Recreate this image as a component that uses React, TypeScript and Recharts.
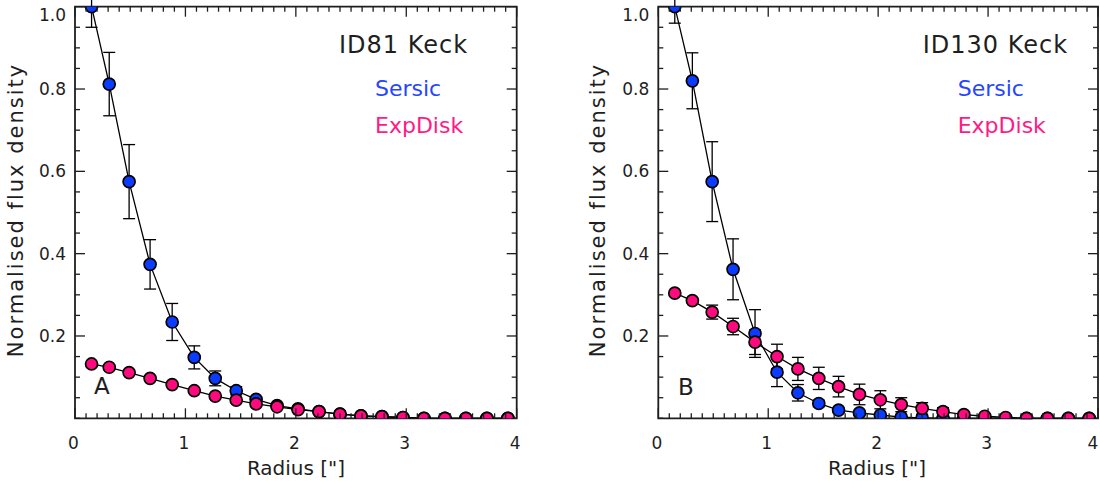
import React from 'react';
import { LineChart, Line, XAxis, YAxis, ErrorBar, ReferenceArea } from 'recharts';

// Radius bins (arcsec)
const radius = [0.15, 0.31, 0.49, 0.68, 0.88, 1.08, 1.27, 1.46, 1.64, 1.83, 2.02, 2.21, 2.40, 2.59, 2.78, 2.97, 3.16, 3.35, 3.54, 3.73, 3.92];

// Panel A: ID81 Keck
const id81Sersic = [1.0, 0.812, 0.575, 0.374, 0.234, 0.148, 0.097, 0.067, 0.046, 0.031, 0.023, 0.016, 0.010, 0.006, 0.004, 0.002, 0.0, 0.0, 0.0, 0.0, 0.0];
const id81SersicErr = [0.05, 0.077, 0.09, 0.06, 0.045, 0.028, 0.018, 0.01, 0.006, 0.004, 0.003, 0.002, 0.001, 0.001, 0, 0, 0, 0, 0, 0, 0];
const id81Exp = [0.132, 0.124, 0.111, 0.097, 0.082, 0.067, 0.054, 0.044, 0.035, 0.028, 0.021, 0.016, 0.010, 0.006, 0.004, 0.002, 0.0, 0.0, 0.0, 0.0, 0.0];
const id81ExpErr = [0.003, 0.003, 0.003, 0.003, 0.003, 0.003, 0.002, 0.002, 0.002, 0.002, 0.001, 0.001, 0.001, 0, 0, 0, 0, 0, 0, 0, 0];

// Panel B: ID130 Keck
const id130Sersic = [1.0, 0.82, 0.575, 0.362, 0.206, 0.112, 0.062, 0.036, 0.020, 0.013, 0.008, 0.003, 0.001, 0.0, 0.0, 0.0, 0.0, 0.0, 0.0, 0.0, 0.0];
const id130SersicErr = [0.04, 0.068, 0.097, 0.074, 0.058, 0.035, 0.02, 0.008, 0.005, 0.004, 0.003, 0.002, 0.001, 0, 0, 0, 0, 0, 0, 0, 0];
const id130Exp = [0.304, 0.286, 0.258, 0.223, 0.185, 0.150, 0.120, 0.097, 0.077, 0.058, 0.045, 0.033, 0.024, 0.016, 0.009, 0.005, 0.002, 0.0, 0.0, 0.0, 0.0];
const id130ExpErr = [0.005, 0.005, 0.017, 0.02, 0.03, 0.03, 0.028, 0.027, 0.025, 0.025, 0.022, 0.017, 0.014, 0.01, 0.006, 0.004, 0.002, 0.001, 0, 0, 0];

// Ticks
const xMajorTicks = [0, 1, 2, 3, 4];
const xAllTicks = Array.from({ length: 41 }, (_, i) => Math.round(i) / 10);
const yLabelTicks = [0.2, 0.4, 0.6, 0.8, 1.0];
const yAllTicks = Array.from({ length: 21 }, (_, i) => Math.round(i * 5) / 100);

const FONT = '"DejaVu Sans", "Liberation Sans", sans-serif';
const INK = '#1e1e1e';
const BLUE_FILL = '#0a3cff';
const PINK_FILL = '#ff0a7e';
const BLUE_TEXT = '#2545ff';
const PINK_TEXT = '#ff1a86';
const CHART_H = 485;

type Margin = { top: number; right: number; bottom: number; left: number };

function Panel(props: {
  width: number;
  plot: { left: number; right: number; top: number; bottom: number };
  sersic: number[];
  sersicErr: number[];
  exp: number[];
  expErr: number[];
}) {
  const { width, plot, sersic, sersicErr, exp, expErr } = props;
  // axes take 1px each (zero-size axes are not drawn)
  const margin: Margin = {
    top: plot.top,
    left: plot.left - 1,
    right: width - plot.right,
    bottom: CHART_H - plot.bottom - 1,
  };
  const plotW = plot.right - plot.left;
  const plotH = plot.bottom - plot.top;
  const data = radius.map((r, i) => ({
    r,
    s: sersic[i],
    se: sersicErr[i],
    e: exp[i],
    ee: expErr[i],
  }));

  const XTick = (p: any) => {
    const { x, y, payload } = p;
    const v = payload.value;
    const major = xMajorTicks.includes(v);
    const len = major ? 10 : 5;
    const lx = Math.min(x - 1.5, width - 7);
    return (
      <g>
        <line x1={x} x2={x} y1={y} y2={y - len} stroke={INK} strokeWidth={1.3} />
        <line x1={x} x2={x} y1={y - plotH} y2={y - plotH + len} stroke={INK} strokeWidth={1.3} />
        {major && (
          <text x={lx} y={y + 31} textAnchor="middle" fontFamily={FONT} fontSize={17} fill={INK}>
            {v}
          </text>
        )}
      </g>
    );
  };

  const YTick = (p: any) => {
    const { x, y, payload } = p;
    const v = payload.value;
    const labelled = yLabelTicks.some((t) => Math.abs(t - v) < 1e-6);
    const len = labelled ? 10 : 5;
    return (
      <g>
        <line x1={x} x2={x + len} y1={y} y2={y} stroke={INK} strokeWidth={1.3} />
        <line x1={x + plotW} x2={x + plotW - len} y1={y} y2={y} stroke={INK} strokeWidth={1.3} />
        {labelled && (
          <text x={x - 9} y={Math.max(y, 15) + 6} textAnchor="end" fontFamily={FONT} fontSize={17} fill={INK}>
            {v.toFixed(1)}
          </text>
        )}
      </g>
    );
  };

  return (
    <LineChart width={width} height={CHART_H} data={data} margin={margin}>
      <XAxis
        dataKey="r"
        type="number"
        domain={[0, 4]}
        ticks={xAllTicks}
        interval={0}
        allowDataOverflow
        height={1}
        tickSize={0}
        tickMargin={0}
        tickLine={false}
        axisLine={false}
        tick={XTick}
      />
      <YAxis
        type="number"
        domain={[0, 1]}
        ticks={yAllTicks}
        interval={0}
        allowDataOverflow
        width={1}
        tickSize={0}
        tickMargin={0}
        tickLine={false}
        axisLine={false}
        tick={YTick}
      />
      <Line
        dataKey="s"
        stroke="#000"
        strokeWidth={1.3}
        isAnimationActive={false}
        activeDot={false}
        dot={{ r: 6, fill: BLUE_FILL, stroke: '#000', strokeWidth: 1.7 }}
      >
        <ErrorBar dataKey="se" width={6} stroke="#000" strokeWidth={1.3} direction="y" />
      </Line>
      <Line
        dataKey="e"
        stroke="#000"
        strokeWidth={1.3}
        isAnimationActive={false}
        activeDot={false}
        dot={{ r: 6, fill: PINK_FILL, stroke: '#000', strokeWidth: 1.7 }}
      >
        <ErrorBar dataKey="ee" width={6} stroke="#000" strokeWidth={1.3} direction="y" />
      </Line>
      <ReferenceArea x1={0} x2={4} y1={0} y2={1} fill="none" fillOpacity={0} stroke={INK} strokeWidth={1.8} />
    </LineChart>
  );
}

export default function App() {
  const textStyle = { fontFamily: FONT };
  return (
    <div style={{ position: 'absolute', left: 0, top: 0, width: 1100, height: 485, background: '#fff' }}>
      <div style={{ position: 'absolute', left: 0, top: 0 }}>
        <Panel
          width={580}
          plot={{ left: 75, right: 516.7, top: 6.7, bottom: 418.3 }}
          sersic={id81Sersic}
          sersicErr={id81SersicErr}
          exp={id81Exp}
          expErr={id81ExpErr}
        />
      </div>
      <div style={{ position: 'absolute', left: 580, top: 0 }}>
        <Panel
          width={520}
          plot={{ left: 78.3, right: 518, top: 6.7, bottom: 418.3 }}
          sersic={id130Sersic}
          sersicErr={id130SersicErr}
          exp={id130Exp}
          expErr={id130ExpErr}
        />
      </div>
      <svg
        width={1100}
        height={485}
        style={{ position: 'absolute', left: 0, top: 0, pointerEvents: 'none' }}
      >
        <g style={textStyle} fill={INK}>
          <text x={339} y={53} fontSize={24} letterSpacing={1}>ID81 Keck</text>
          <text x={375} y={96} fontSize={22} fill={BLUE_TEXT}>Sersic</text>
          <text x={375} y={133} fontSize={22} fill={PINK_TEXT}>ExpDisk</text>
          <text x={94} y={394} fontSize={23}>A</text>
          <text x={296} y={475} fontSize={20} textAnchor="middle">Radius ["]</text>
          <text x={22.7} y={210} fontSize={21} letterSpacing={2} textAnchor="middle" transform="rotate(-90 22.7 210)">
            Normalised flux density
          </text>

          <text x={922.7} y={53} fontSize={24} letterSpacing={1}>ID130 Keck</text>
          <text x={957.7} y={96} fontSize={22} fill={BLUE_TEXT}>Sersic</text>
          <text x={957.7} y={133} fontSize={22} fill={PINK_TEXT}>ExpDisk</text>
          <text x={678} y={395} fontSize={23}>B</text>
          <text x={877} y={475} fontSize={20} textAnchor="middle">Radius ["]</text>
          <text x={605} y={210} fontSize={21} letterSpacing={2} textAnchor="middle" transform="rotate(-90 605 210)">
            Normalised flux density
          </text>
        </g>
      </svg>
    </div>
  );
}
